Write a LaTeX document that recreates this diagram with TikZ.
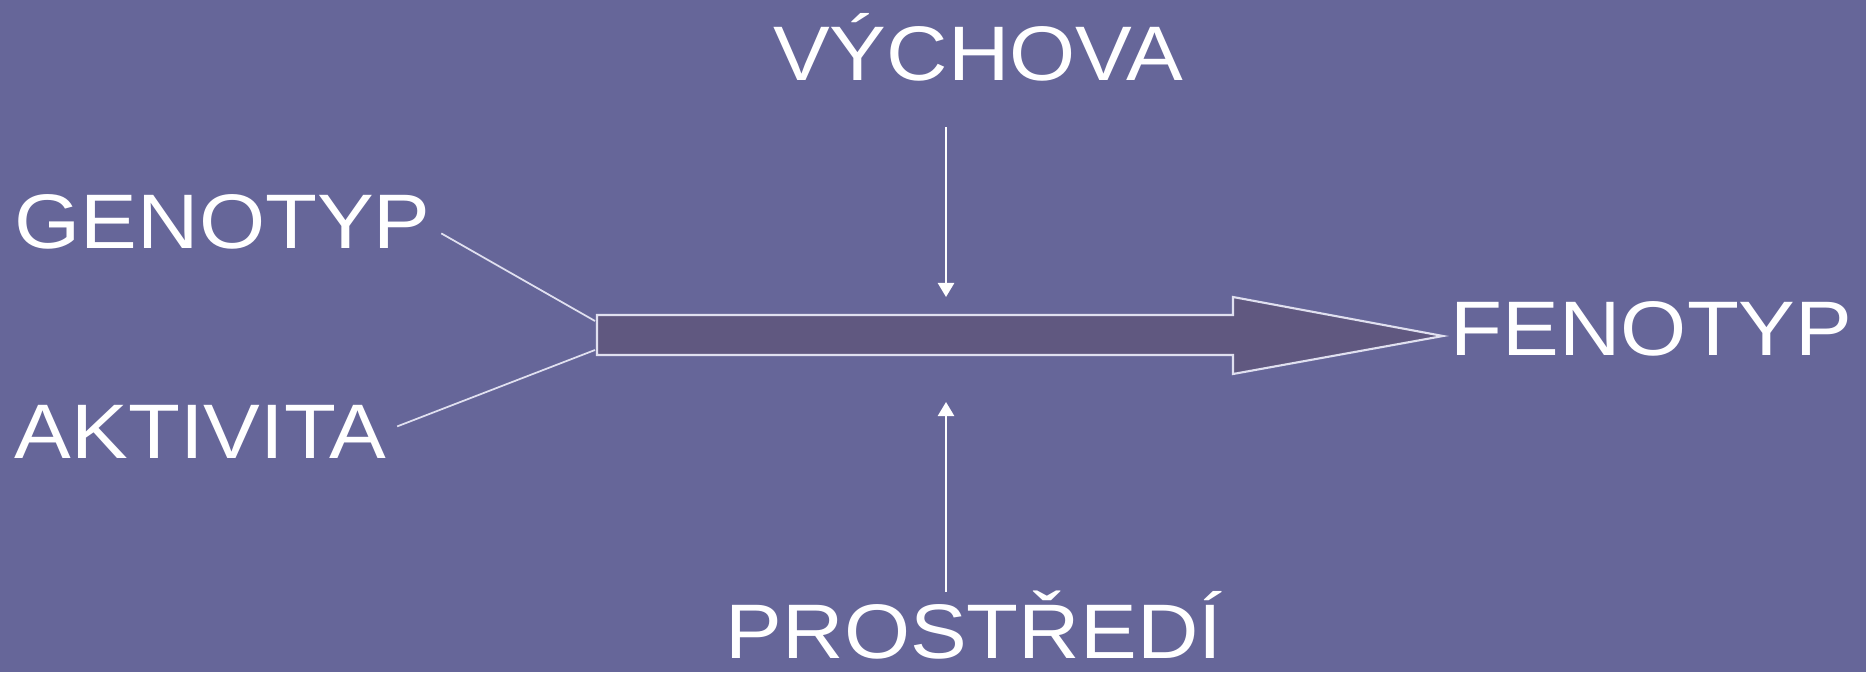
\documentclass[tikz,border=0pt]{standalone}
\usepackage{fontspec}
\setmainfont[FakeStretch=1.1]{Liberation Sans}
\usetikzlibrary{arrows.meta}

\definecolor{slidebg}{RGB}{102,102,153}
\definecolor{arrowfill}{RGB}{96,88,128}
\definecolor{edgeline}{RGB}{224,224,240}

\tikzset{
    label/.style={text=white, inner sep=1mm, font=\fontsize{22}{26}\selectfont},
    link/.style={edgeline, line width=0.5pt},
    push/.style={white, line width=0.6pt, -{Triangle[width=4.6pt,length=4pt]}}
}

\begin{document}
\begin{tikzpicture}
    \fill[slidebg] (0, 0) rectangle (18.66, 6.72);
    \useasboundingbox (0, 0) rectangle (18.66, 6.72);

    % big arrow
    \coordinate (tailtop) at (5.97, 3.57);
    \coordinate (tailbot) at (5.97, 3.17);
    \coordinate (tip) at (14.43, 3.36);
    \draw[fill=arrowfill, draw=edgeline, line width=0.6pt]
        (tailbot) -- (tailtop) -- (12.33, 3.57) -- (12.33, 3.75)
        -- (tip) -- (12.33, 2.98) -- (12.33, 3.17) -- cycle;

    \node[label, anchor=base west] (genotyp) at (0.04, 4.24) {GENOTYP};
    \node[label, anchor=base west] (aktivita) at (0.04, 2.14) {AKTIVITA};
    \node[label, anchor=base west] (fenotyp) at (14.40, 3.17) {FENOTYP};
    \node[label, anchor=base] (vychova) at (9.78, 5.91) {VÝCHOVA};
    \node[label, anchor=base, inner sep=0.5pt] (prostredi) at (9.74, 0.14) {PROSTŘEDÍ};

    \draw[link] ([yshift=-1.2mm]genotyp.east) -- ([shift={(-0.02,-0.06)}]tailtop);
    \draw[link] ([yshift=0.5mm]aktivita.east) -- ([shift={(-0.02,0.05)}]tailbot);

    \coordinate (downfrom) at (9.46, 5.45);
    \coordinate (downto) at (9.46, 3.75);
    \coordinate (upfrom) at (9.46, 0.80);
    \coordinate (upto) at (9.46, 2.70);
    \draw[push] (downfrom) -- (downto);
    \draw[push] (upfrom) -- (upto);

\end{tikzpicture}
\end{document}
